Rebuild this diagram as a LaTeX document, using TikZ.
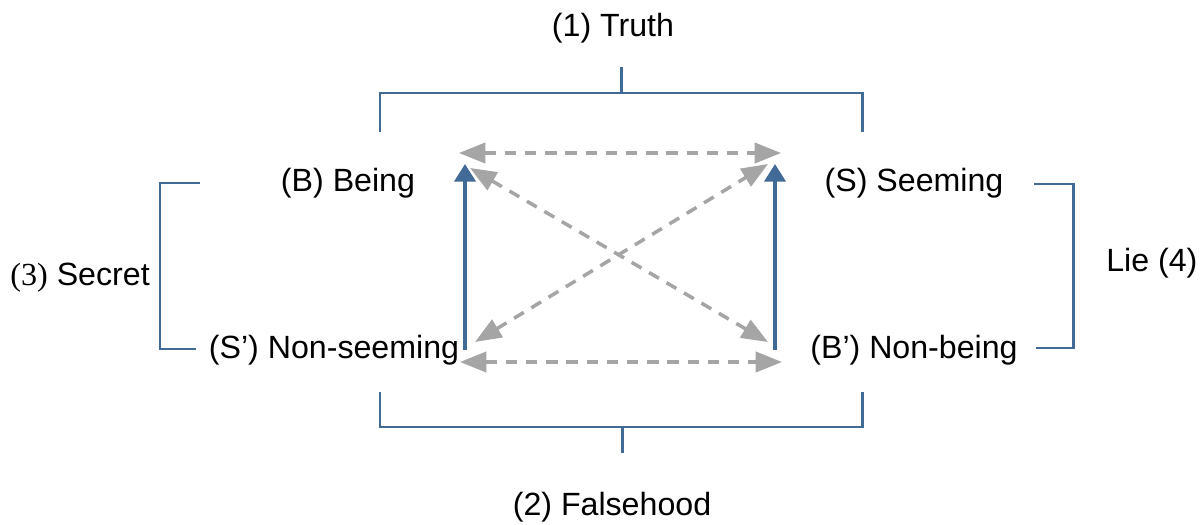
\documentclass[tikz,border=0pt]{standalone}
\usepackage{fontspec}
\setmainfont{Liberation Sans}
\newfontfamily\numserif{Liberation Serif}
\usetikzlibrary{arrows.meta}
\definecolor{bracketblue}{RGB}{66,106,150}
\definecolor{linkgrey}{RGB}{165,165,165}
\begin{document}
\begin{tikzpicture}[x=0.02cm,y=-0.02cm,
  lbl/.style={inner sep=0pt,font=\fontsize{18.3}{22}\selectfont},
  bracket/.style={draw=bracketblue,line width=1.7pt},
  implies/.style={draw=bracketblue,line width=2pt,-{Triangle[length=10pt,width=12pt]}},
  relation/.style={draw=linkgrey,line width=2pt,dash pattern=on 6.5pt off 5pt,
    {Triangle[length=15pt,width=11.5pt]}-{Triangle[length=15pt,width=11.5pt]}}]
\useasboundingbox (0,0) rectangle (1200,524);

% corner terms of the square
\node[lbl] (B)  at (348,183) {(B) Being};
\node[lbl] (S)  at (914,183) {(S) Seeming};
\node[lbl] (Sp) at (334,350) {(S’) Non-seeming};
\node[lbl] (Bp) at (914,350) {(B’) Non-being};

% bracket labels
\node[lbl] (truth)  at (613,28)  {(1) Truth};
\node[lbl] (false)  at (612,507) {(2) Falsehood};
\node[lbl,anchor=west] (secret) at (10,278) {{\numserif(3)} Secret};
\node[lbl,anchor=west] (lie)    at (1106,263) {Lie (4)};

% brackets
\coordinate (t1) at (380,132); \coordinate (t2) at (862,132);
\coordinate (tm) at (621,93);  \coordinate (tt) at (621,67);
\draw[bracket] (t1) |- (tm) -| (t2);
\draw[bracket] (tm) -- (tt);

\coordinate (b1) at (380,392); \coordinate (b2) at (862,392);
\coordinate (bm) at (622,427); \coordinate (bt) at (622,453);
\draw[bracket] (b1) |- (bm) -| (b2);
\draw[bracket] (bm) -- (bt);

\coordinate (l1) at (200,183); \coordinate (l2) at (196,349);
\draw[bracket] (l1) -- (160,183) -- (160,349) -- (l2);

\coordinate (r1) at (1034,184); \coordinate (r2) at (1036,348);
\draw[bracket] (r1) -- (1073,184) -- (1073,348) -- (r2);

% arrow ends
\coordinate (ub1) at (465,350); \coordinate (ut1) at (465,164);
\coordinate (ub2) at (775,350); \coordinate (ut2) at (775,164);
\coordinate (hl)  at (459,153); \coordinate (hr)  at (781,153);
\coordinate (gl)  at (460,362); \coordinate (gr)  at (782,362);
\coordinate (d1a) at (470,168); \coordinate (d1b) at (768,342);
\coordinate (d2a) at (475,342); \coordinate (d2b) at (768,164);

% relations
\draw[relation] (hl) -- (hr);
\draw[relation] (gl) -- (gr);
\draw[relation] (d1a) -- (d1b);
\draw[relation] (d2a) -- (d2b);
\draw[implies] (ub1) -- (ut1);
\draw[implies] (ub2) -- (ut2);
\end{tikzpicture}
\end{document}
